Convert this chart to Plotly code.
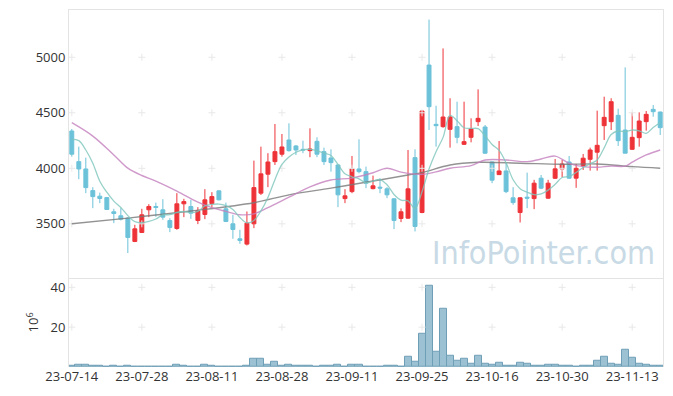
import plotly.graph_objects as go
import pandas as pd

dates = ["23-07-14","23-07-17","23-07-18","23-07-19","23-07-20","23-07-21","23-07-24","23-07-25","23-07-26","23-07-27",
         "23-07-28","23-07-31","23-08-01","23-08-02","23-08-03","23-08-04","23-08-07","23-08-08","23-08-09","23-08-10",
         "23-08-11","23-08-14","23-08-16","23-08-17","23-08-18","23-08-21","23-08-22","23-08-23","23-08-24","23-08-25",
         "23-08-28","23-08-29","23-08-30","23-08-31","23-09-01","23-09-04","23-09-05","23-09-06","23-09-07","23-09-08",
         "23-09-11","23-09-12","23-09-13","23-09-14","23-09-15","23-09-18","23-09-19","23-09-20","23-09-21","23-09-22",
         "23-09-25","23-09-26","23-09-27","23-10-04","23-10-05","23-10-06","23-10-10","23-10-11","23-10-12","23-10-13",
         "23-10-16","23-10-17","23-10-18","23-10-19","23-10-20","23-10-23","23-10-24","23-10-25","23-10-26","23-10-27",
         "23-10-30","23-10-31","23-11-01","23-11-02","23-11-03","23-11-06","23-11-07","23-11-08","23-11-09","23-11-10",
         "23-11-13","23-11-14","23-11-15","23-11-16","23-11-17"]

open_ = [4336,4060,3994,3799,3749,3736,3608,3572,3551,3341,
         3422,3626,3656,3626,3530,3458,3680,3656,3530,3584,
         3682,3797,3635,3500,3365,3317,3500,3776,3947,4060,
         4127,4255,4201,4171,4159,4243,4150,4093,4030,3727,
         3790,3994,3970,3817,3830,3815,3725,3548,3551,4096,
         3602,4930,4396,4375,4351,4375,4216,4279,4420,4372,
         4057,3943,3976,3734,3602,3740,3727,3911,3731,3910,
         3994,4057,3911,4021,4081,4145,4384,4420,4477,4345,
         4171,4276,4420,4531,4507]
high = [4354,4195,4096,3830,3781,3742,3635,3641,3560,3491,
        3635,3677,3691,3722,3551,3776,3725,3716,3650,3812,
        3785,3800,3691,3581,3446,3611,4069,4195,4136,4399,
        4309,4405,4210,4249,4360,4279,4186,4171,4035,3812,
        4111,4261,4015,3934,3911,3830,3730,3638,4165,4171,
        4520,5340,4564,5080,4631,4600,4600,4450,4711,4390,
        4060,4246,4046,3830,3740,3961,3896,3940,3896,4084,
        4075,4111,4040,4129,4186,4519,4645,4631,4537,4909,
        4504,4504,4516,4570,4510]
low = [4105,3902,3776,3641,3686,3625,3506,3530,3237,3335,
       3418,3560,3563,3536,3425,3446,3560,3545,3497,3542,
       3647,3711,3515,3365,3320,3305,3461,3760,3830,4030,
       4105,4150,4120,4136,4100,4100,4030,3970,3650,3686,
       3776,3955,3821,3810,3776,3731,3452,3515,3545,3431,
       3595,4345,4195,4365,4186,4225,4210,4234,4381,4130,
       3866,3940,3776,3671,3512,3641,3632,3812,3725,3905,
       3920,3905,3824,3985,3979,3979,4255,4345,4201,4136,
       4165,4195,4339,4465,4300]
close = [4127,3994,3826,3745,3728,3629,3593,3542,3377,3455,
         3581,3656,3647,3560,3467,3680,3700,3596,3617,3716,
         3745,3716,3521,3449,3350,3506,3826,3950,4057,4150,
         4192,4159,4165,4165,4174,4127,4060,4051,3761,3752,
         3994,3970,3866,3842,3822,3761,3530,3608,3815,3476,
         4516,4555,4384,4462,4462,4279,4240,4354,4450,4136,
         3893,3976,3790,3691,3734,3731,3866,3821,3866,3995,
         4039,3911,4000,4091,4165,4207,4459,4600,4249,4136,
         4279,4426,4486,4510,4366]
volume = [0.75,1.25,1.25,0.75,0.75,0.1,0.75,0.1,0.75,0.1,
          0.1,0.1,0.1,0.1,0.1,1.25,0.75,0.1,0.1,1.25,
          0.75,0.1,0.1,0.1,0.1,0.75,4.1,4.1,1.25,2.75,
          0.75,1.25,0.75,0.75,0.75,0.1,0.75,0.75,1.25,0.1,
          1.25,1.25,0.1,0.1,0.1,0.75,0.75,0.1,5.1,2.6,
          16.75,40.75,7.75,29.25,5.75,3.25,4.1,1.6,5.75,1.6,
          1.1,2.1,0.75,0.75,2.1,1.6,0.75,0.75,1.25,1.25,
          0.75,0.75,0.1,0.75,0.75,3.25,5.25,1.75,1.25,8.75,
          4.75,1.75,1.25,0.75,0.75]

# 5-day MA: first values (need earlier history)
ma5_head = [4261, 4249, 4165, 4046]
# 20-day and 60-day MA at selected sessions
ma20_idx = [0,3,6,8,10,12,15,18,20,22,24,26,28,31,34,37,40,43,45,47,50,52,54,57,59,62,65,67,69,71,73,75,77,79,80,82,84]
ma20_val = [4411,4290,4120,4001,3935,3885,3795,3695,3645,3612,3582,3590,3645,3740,3833,3895,3912,3960,4001,3965,
            3945,3968,4001,4024,4075,4075,4060,4084,4110,4045,4015,4010,4020,4020,4055,4120,4165]
ma60_idx = [0,8,17,26,31,37,43,48,50,54,58,64,70,75,80,84]
ma60_val = [3500,3551,3615,3690,3761,3821,3885,3940,3961,4030,4054,4046,4036,4039,4015,4001]

price_ticks = [3500, 4000, 4500, 5000]
vol_ticks = [20, 40]
x_ticks = dates[0::10]

ma5 = pd.Series(close, dtype=float).rolling(5).mean().tolist()
ma5[:4] = ma5_head

UP = "#ee3338"
DOWN = "#6cc2d9"
GRID = "#e8e8e8"
BORDER = "#e4e4e4"
FONT = "Open Sans"

fig = go.Figure()

# grid crosses
gx = [d for d in x_ticks for _ in price_ticks]
gy = [p for _ in x_ticks for p in price_ticks]
fig.add_trace(go.Scatter(x=gx, y=gy, mode="markers", xaxis="x", yaxis="y",
                         marker=dict(symbol="cross-thin", size=5, line=dict(color=GRID, width=1)),
                         hoverinfo="skip", showlegend=False))
vx = [d for d in x_ticks for _ in vol_ticks]
vy = [v for _ in x_ticks for v in vol_ticks]
fig.add_trace(go.Scatter(x=vx, y=vy, mode="markers", xaxis="x2", yaxis="y2",
                         marker=dict(symbol="cross-thin", size=5, line=dict(color=GRID, width=1)),
                         hoverinfo="skip", showlegend=False))

fig.add_trace(go.Candlestick(x=dates, open=open_, high=high, low=low, close=close,
                             xaxis="x", yaxis="y",
                             increasing=dict(line=dict(color=UP, width=1), fillcolor=UP),
                             decreasing=dict(line=dict(color=DOWN, width=1), fillcolor=DOWN),
                             whiskerwidth=0, showlegend=False))

fig.add_trace(go.Scatter(x=[dates[i] for i in ma60_idx], y=ma60_val, mode="lines", xaxis="x", yaxis="y",
                         line=dict(color="rgba(120,120,120,0.8)", width=1.4, shape="spline"),
                         showlegend=False))
fig.add_trace(go.Scatter(x=[dates[i] for i in ma20_idx], y=ma20_val, mode="lines", xaxis="x", yaxis="y",
                         line=dict(color="rgba(196,128,190,0.8)", width=1.4, shape="spline"),
                         showlegend=False))
fig.add_trace(go.Scatter(x=dates, y=ma5, mode="lines", xaxis="x", yaxis="y",
                         line=dict(color="rgba(125,198,188,0.8)", width=1.3, shape="spline"),
                         showlegend=False))

fig.add_trace(go.Bar(x=dates, y=volume, xaxis="x2", yaxis="y2",
                     marker=dict(color="#9bc1d2", line=dict(color="#6f9fb7", width=1)),
                     showlegend=False))

# The page body has an 8px default margin, so the figure is 8px smaller
# than the window and its margins are reduced by 8px on the left/top.
fig.update_layout(
    width=665, height=388,
    margin=dict(l=61, r=10, t=2, b=29),
    paper_bgcolor="white", plot_bgcolor="white",
    font=dict(family=FONT, size=13, color="#333333"),
    bargap=0, boxgap=0.2,
    xaxis=dict(type="category", categoryorder="array", categoryarray=dates,
               range=[-0.4, 84.4], anchor="y", showticklabels=False, showgrid=False,
               showline=True, mirror=True, linecolor=BORDER, linewidth=1, zeroline=False,
               rangeslider=dict(visible=False), fixedrange=True, automargin=False),
    yaxis=dict(domain=[0.25, 1], range=[3014, 5426], tickvals=price_ticks, showgrid=False,
               showline=True, mirror=True, linecolor=BORDER, linewidth=1, zeroline=False,
               ticks="", tickfont=dict(size=13, color="#333333"), automargin=False),
    xaxis2=dict(type="category", categoryorder="array", categoryarray=dates, matches="x",
                range=[-0.4, 84.4], anchor="y2", tickvals=x_ticks, ticktext=x_ticks,
                showgrid=False, showline=False, zeroline=False, ticks="", tickangle=0,
                tickfont=dict(size=13, color="#333333"), automargin=False),
    yaxis2=dict(domain=[0, 0.25], range=[0, 44.8], tickvals=vol_ticks, showgrid=False,
                showline=True, mirror=True, linecolor=BORDER, linewidth=1, zeroline=False,
                ticks="", tickfont=dict(size=13, color="#333333"), automargin=False,
                title=dict(text="10<sup>6</sup>", font=dict(size=13, color="#333333"), standoff=8)),
    annotations=[dict(text="InfoPointer.com", xref="paper", yref="paper", x=0.99, y=0.318,
                      xanchor="right", yanchor="middle", showarrow=False,
                      font=dict(family="DejaVu Sans Condensed, DejaVu Sans, sans-serif",
                                size=32, color="#c8dae5"))],
)

fig.write_html("out.html")
